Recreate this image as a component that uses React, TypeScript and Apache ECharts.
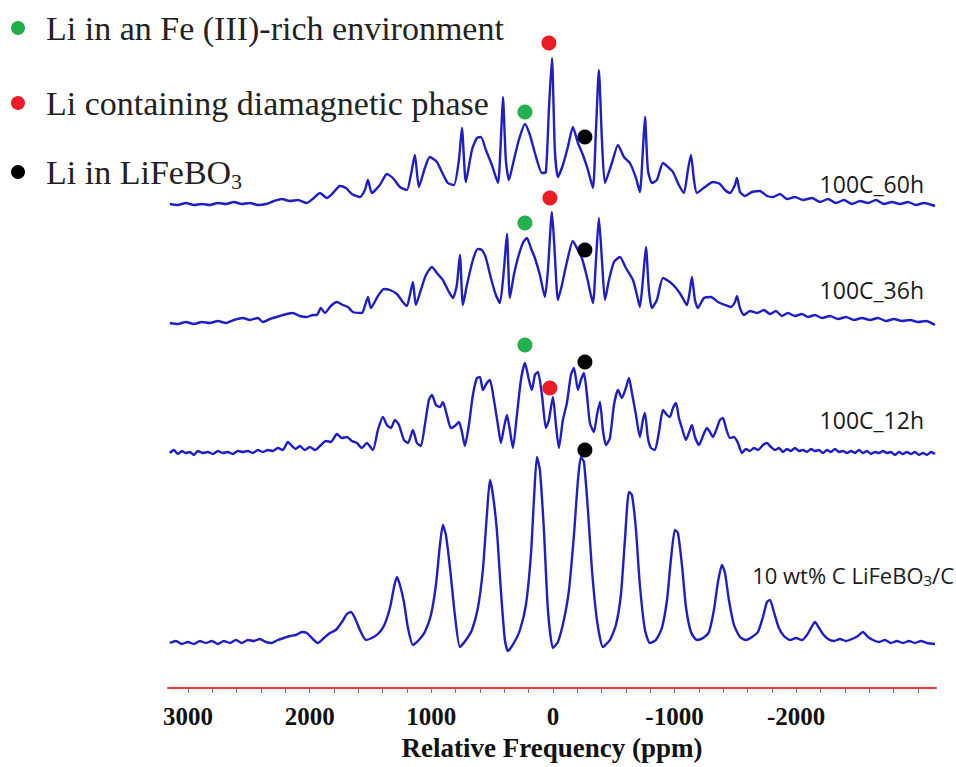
import React, { useEffect, useRef } from "react";
import * as echarts from "echarts";

// x axis (ppm), reversed
const X_MIN = -3150;
const X_MAX = 3165;
const TICK_VALUES = [
  -3000, -2800, -2600, -2400, -2200, -2000, -1800, -1600, -1400, -1200, -1000, -800, -600, -400, -200,
  0, 200, 400, 600, 800, 1000, 1200, 1400, 1600, 1800, 2000, 2200, 2400, 2600, 2800, 3000,
];
const LABEL_VALUES = [-2000, -1000, 0, 1000, 2000, 3000];
const AXIS_TITLE = "Relative Frequency (ppm)";

const LEGEND_LABELS = ["Li in an Fe (III)-rich environment", "Li containing diamagnetic phase", "Li in LiFeBO3"];
const TRACE_LABELS = ["100C_60h", "100C_36h", "100C_12h", "10 wt% C LiFeBO3/C"];

// spectra: [ppm, intensity (a.u.)]
const SPEC_60H = [
  [3150, 6], [3084, 5], [3018, 7], [2952, 5], [2887, 6], [2821, 5], [2755, 7], [2689, 6], [2623, 8], [2558, 6],
  [2492, 7], [2426, 5], [2360, 6], [2294, 9], [2229, 11], [2163, 9], [2097, 10], [2023, 7], [1966, 12], [1916, 17],
  [1859, 12], [1801, 18], [1752, 24], [1702, 22], [1653, 16], [1587, 13], [1546, 20], [1521, 30], [1489, 17],
  [1423, 25], [1365, 36], [1316, 32], [1258, 23], [1201, 20], [1168, 35], [1135, 55], [1102, 23], [1053, 42],
  [1012, 53], [954, 48], [913, 38], [864, 27], [814, 25], [773, 50], [748, 82], [716, 28], [666, 60], [625, 72],
  [592, 73], [551, 60], [502, 45], [452, 27], [428, 70], [411, 113], [387, 50], [362, 30], [321, 50], [280, 70],
  [230, 86], [189, 75], [148, 57], [90, 37], [58, 38], [33, 100], [8, 152], [-16, 60], [-41, 33], [-82, 45],
  [-123, 63], [-164, 83], [-206, 67], [-247, 55], [-288, 40], [-329, 22], [-354, 80], [-378, 140], [-403, 70],
  [-428, 27], [-485, 47], [-535, 65], [-584, 53], [-633, 47], [-683, 32], [-715, 18], [-740, 60], [-757, 93],
  [-781, 40], [-814, 27], [-855, 30], [-905, 47], [-946, 43], [-987, 38], [-1036, 25], [-1077, 17], [-1110, 40],
  [-1135, 55], [-1160, 30], [-1184, 17], [-1250, 23], [-1316, 28], [-1373, 26], [-1415, 20], [-1456, 17],
  [-1497, 25], [-1513, 32], [-1538, 18], [-1579, 14], [-1637, 18], [-1702, 19], [-1760, 14], [-1809, 13],
  [-1867, 16], [-1924, 11], [-1990, 13], [-2056, 10], [-2130, 12], [-2196, 8], [-2262, 11], [-2327, 7],
  [-2393, 10], [-2459, 6], [-2525, 9], [-2591, 7], [-2656, 10], [-2722, 6], [-2788, 8], [-2854, 6], [-2920, 8],
  [-2985, 5], [-3051, 7], [-3142, 4],
];

const SPEC_36H = [
  [3150, 7], [3084, 6], [3018, 8], [2952, 6], [2887, 8], [2821, 7], [2755, 9], [2689, 7], [2623, 10], [2549, 12],
  [2492, 10], [2426, 12], [2385, 8], [2327, 11], [2245, 14], [2188, 16], [2138, 17], [2081, 14], [2023, 13],
  [1974, 15], [1941, 15], [1908, 22], [1875, 17], [1826, 24], [1776, 28], [1727, 25], [1686, 23], [1645, 18],
  [1571, 17], [1546, 24], [1521, 33], [1497, 22], [1439, 34], [1390, 41], [1341, 40], [1283, 36], [1234, 28],
  [1201, 24], [1176, 35], [1151, 48], [1127, 25], [1086, 40], [1044, 55], [995, 63], [954, 57], [905, 50],
  [863, 40], [822, 32], [790, 45], [765, 75], [740, 25], [707, 45], [658, 70], [617, 81], [584, 80], [551, 72],
  [510, 52], [469, 35], [436, 27], [403, 60], [378, 96], [354, 32], [321, 55], [288, 72], [247, 87], [214, 92],
  [181, 82], [148, 72], [107, 55], [66, 33], [41, 60], [8, 118], [-16, 75], [-41, 30], [-74, 45], [-115, 68],
  [-164, 89], [-197, 82], [-238, 72], [-280, 53], [-329, 27], [-354, 70], [-378, 112], [-403, 70], [-428, 30],
  [-461, 50], [-502, 68], [-551, 73], [-600, 62], [-658, 50], [-691, 35], [-715, 23], [-740, 50], [-765, 83],
  [-789, 40], [-814, 22], [-855, 30], [-905, 52], [-962, 48], [-1012, 42], [-1053, 35], [-1102, 25], [-1127, 40],
  [-1143, 53], [-1168, 30], [-1192, 22], [-1242, 32], [-1299, 33], [-1357, 28], [-1415, 25], [-1464, 23],
  [-1497, 28], [-1513, 34], [-1538, 22], [-1571, 15], [-1620, 19], [-1678, 17], [-1735, 20], [-1785, 16],
  [-1834, 19], [-1883, 14], [-1933, 17], [-1990, 14], [-2048, 16], [-2097, 13], [-2155, 15], [-2212, 12],
  [-2278, 14], [-2344, 11], [-2410, 13], [-2475, 10], [-2541, 12], [-2607, 10], [-2673, 12], [-2739, 9],
  [-2804, 11], [-2870, 9], [-2936, 10], [-3002, 8], [-3068, 9], [-3142, 5],
];

const SPEC_12H = [
  [3150, 12], [3117, 15], [3084, 11], [3051, 14], [3018, 12], [2985, 13], [2952, 10], [2920, 14], [2878, 12],
  [2837, 13], [2796, 11], [2755, 14], [2714, 12], [2673, 13], [2632, 11], [2591, 14], [2549, 13], [2508, 14],
  [2467, 12], [2426, 15], [2385, 13], [2344, 15], [2303, 14], [2262, 17], [2220, 15], [2179, 23], [2146, 19],
  [2114, 16], [2081, 19], [2040, 15], [1998, 18], [1957, 15], [1916, 19], [1867, 24], [1826, 23], [1776, 31],
  [1735, 27], [1694, 28], [1653, 24], [1612, 22], [1571, 17], [1530, 22], [1480, 15], [1439, 35], [1398, 48],
  [1365, 40], [1332, 37], [1299, 45], [1266, 40], [1225, 25], [1192, 22], [1151, 35], [1118, 22], [1086, 19],
  [1053, 40], [1020, 65], [995, 70], [962, 60], [929, 58], [905, 63], [872, 50], [839, 37], [806, 39], [773, 43],
  [748, 33], [724, 19], [691, 40], [658, 70], [625, 87], [600, 88], [576, 75], [543, 82], [518, 85], [485, 65],
  [452, 40], [428, 22], [403, 37], [378, 50], [354, 35], [329, 17], [296, 50], [263, 85], [230, 102], [197, 85],
  [173, 75], [148, 90], [123, 93], [90, 70], [58, 37], [33, 45], [0, 68], [-25, 40], [-49, 17], [-82, 45],
  [-115, 62], [-148, 90], [-173, 97], [-206, 75], [-230, 85], [-255, 92], [-280, 70], [-304, 42], [-337, 33],
  [-362, 50], [-387, 63], [-411, 35], [-436, 20], [-469, 27], [-502, 60], [-535, 75], [-567, 67], [-600, 77],
  [-625, 87], [-650, 72], [-683, 50], [-715, 28], [-740, 45], [-757, 52], [-781, 27], [-806, 17], [-839, 15],
  [-872, 33], [-905, 55], [-938, 50], [-962, 48], [-987, 57], [-1012, 62], [-1036, 47], [-1061, 37], [-1094, 25],
  [-1118, 32], [-1143, 40], [-1168, 28], [-1201, 20], [-1234, 29], [-1266, 37], [-1291, 33], [-1316, 28],
  [-1349, 37], [-1373, 45], [-1398, 47], [-1423, 37], [-1456, 27], [-1489, 28], [-1522, 22], [-1554, 12],
  [-1587, 16], [-1620, 14], [-1653, 17], [-1686, 15], [-1727, 20], [-1760, 22], [-1793, 18], [-1826, 15],
  [-1859, 17], [-1891, 13], [-1924, 16], [-1957, 14], [-1990, 17], [-2023, 14], [-2056, 15], [-2089, 13],
  [-2122, 16], [-2155, 14], [-2188, 15], [-2220, 12], [-2253, 15], [-2286, 13], [-2319, 16], [-2352, 13],
  [-2385, 14], [-2418, 12], [-2451, 14], [-2484, 12], [-2516, 15], [-2549, 12], [-2582, 14], [-2615, 11],
  [-2648, 13], [-2681, 12], [-2714, 14], [-2747, 12], [-2780, 13], [-2813, 10], [-2845, 13], [-2878, 11],
  [-2911, 13], [-2944, 11], [-2977, 13], [-3010, 10], [-3043, 12], [-3076, 10], [-3109, 13], [-3142, 11],
];

const SPEC_10WT = [
  [3150, 12], [3100, 14], [3051, 11], [3002, 13], [2952, 11], [2903, 14], [2854, 12], [2804, 14], [2755, 11],
  [2706, 14], [2656, 12], [2607, 15], [2558, 12], [2508, 15], [2459, 14], [2410, 16], [2360, 13], [2311, 12],
  [2262, 15], [2212, 17], [2163, 19], [2114, 20], [2064, 23], [2023, 22], [1982, 17], [1933, 12], [1883, 17],
  [1834, 22], [1785, 25], [1735, 33], [1694, 41], [1661, 43], [1628, 37], [1587, 25], [1538, 15], [1489, 17],
  [1439, 21], [1390, 29], [1340, 47], [1308, 67], [1283, 78], [1258, 70], [1225, 53], [1192, 27], [1151, 10],
  [1102, 15], [1053, 23], [1003, 40], [962, 70], [929, 110], [905, 130], [880, 120], [847, 88], [806, 40],
  [765, 8], [715, 15], [666, 25], [617, 47], [576, 85], [543, 140], [518, 175], [493, 160], [461, 125], [428, 65],
  [395, 15], [370, 4], [321, 12], [271, 25], [222, 50], [181, 100], [156, 155], [132, 198], [107, 185], [74, 125],
  [41, 45], [0, 7], [-41, 13], [-90, 35], [-132, 65], [-173, 120], [-206, 175], [-230, 198], [-255, 193],
  [-288, 145], [-321, 85], [-362, 35], [-411, 8], [-469, 15], [-518, 30], [-559, 60], [-592, 115], [-625, 163],
  [-650, 160], [-683, 125], [-715, 70], [-757, 25], [-798, 12], [-847, 15], [-896, 27], [-938, 55], [-970, 95],
  [-1003, 125], [-1028, 122], [-1061, 90], [-1094, 48], [-1135, 23], [-1184, 15], [-1234, 17], [-1283, 23],
  [-1324, 45], [-1357, 73], [-1390, 90], [-1415, 82], [-1447, 55], [-1489, 30], [-1538, 18], [-1587, 15],
  [-1637, 18], [-1686, 23], [-1727, 38], [-1760, 53], [-1785, 55], [-1817, 43], [-1858, 27], [-1900, 19],
  [-1949, 15], [-1998, 17], [-2048, 15], [-2089, 20], [-2122, 27], [-2155, 33], [-2188, 27], [-2220, 21],
  [-2262, 16], [-2311, 14], [-2360, 16], [-2410, 14], [-2459, 16], [-2508, 19], [-2549, 23], [-2591, 18],
  [-2632, 15], [-2681, 13], [-2730, 15], [-2780, 12], [-2829, 14], [-2878, 12], [-2928, 14], [-2977, 12],
  [-3026, 14], [-3076, 12], [-3142, 11],
];

// peak markers: [trace index, ppm, intensity]
const GREEN_MARKS = [[0, 230, 98], [1, 230, 107], [2, 230, 120]];
const RED_MARKS = [[0, 33, 167], [1, 25, 132], [2, 25, 77]];
const BLACK_MARKS = [[0, -263, 73], [1, -263, 80], [2, -263, 103], [3, -263, 205]];

const SPECTRA = [SPEC_60H, SPEC_36H, SPEC_12H, SPEC_10WT];

export default function App() {
  const ref = useRef<HTMLDivElement>(null);

  useEffect(() => {
    if (!ref.current) return;
    const chart = echarts.init(ref.current, null, { renderer: "svg" });

    const gridBoxes = [
      { top: 35, bottom: 557, yMin: 0, yMax: 175 },
      { top: 190, bottom: 437, yMin: 0, yMax: 140 },
      { top: 340, bottom: 302, yMin: 0, yMax: 125 },
      { top: 435, bottom: 79, yMin: -33, yMax: 220 },
    ];
    const LINE = "#1e1ec4";
    const AXIS_RED = "#e8383d";
    const markColors = ["#22b04c", "#ec1c24", "#000000"];
    const markSets = [GREEN_MARKS, RED_MARKS, BLACK_MARKS];

    const grid = gridBoxes.map((g) => ({ left: 168, right: 20, top: g.top, bottom: g.bottom }));
    const xAxis = gridBoxes.map((g, i) => {
      const base: any = { type: "value", gridIndex: i, min: X_MIN, max: X_MAX, inverse: true };
      if (i < 3) return { ...base, show: false };
      return {
        ...base,
        show: true,
        name: AXIS_TITLE,
        nameLocation: "middle",
        nameGap: 46,
        nameTextStyle: { fontFamily: "Liberation Serif", fontWeight: "bold", fontSize: 27, color: "#111" },
        axisLine: { show: true, onZero: false, lineStyle: { color: AXIS_RED, width: 2 } },
        axisTick: { show: true, customValues: TICK_VALUES, length: 5, lineStyle: { color: "#8a6a6a", width: 1 } },
        minorTick: { show: false },
        splitLine: { show: false },
        axisLabel: {
          customValues: LABEL_VALUES,
          formatter: (v: number) => String(v),
          margin: 16,
          fontFamily: "Liberation Serif",
          fontWeight: "bold",
          fontSize: 25,
          color: "#111",
        },
      };
    });
    const yAxis = gridBoxes.map((g, i) => ({ type: "value", gridIndex: i, min: g.yMin, max: g.yMax, show: false }));

    const series: any[] = SPECTRA.map((d, i) => ({
      type: "line",
      name: TRACE_LABELS[i],
      xAxisIndex: i,
      yAxisIndex: i,
      data: d,
      showSymbol: false,
      symbol: "none",
      smooth: 0.2,
      lineStyle: { color: LINE, width: 2.4 },
      z: 2,
    }));
    markSets.forEach((set, c) => {
      [0, 1, 2, 3].forEach((ti) => {
        const pts = set.filter((m) => m[0] === ti).map((m) => [m[1], m[2]]);
        if (!pts.length) return;
        series.push({
          type: "scatter",
          name: LEGEND_LABELS[c],
          xAxisIndex: ti,
          yAxisIndex: ti,
          data: pts,
          symbol: "circle",
          symbolSize: 15,
          itemStyle: { color: markColors[c], opacity: 1 },
          clip: false,
          z: 5,
        });
      });
    });

    const legendRowsY = [28, 103, 172];
    const legendGraphics: any[] = [];
    LEGEND_LABELS.forEach((lab, i) => {
      legendGraphics.push({
        type: "circle",
        shape: { cx: 18, cy: legendRowsY[i], r: 7 },
        style: { fill: markColors[i] },
      });
      const rich = lab.endsWith("BO3");
      legendGraphics.push({
        type: "text",
        x: 46,
        y: legendRowsY[i],
        style: {
          text: rich ? lab.replace("BO3", "BO{sub|3}") : lab,
          fontFamily: "Liberation Serif",
          fontSize: 34,
          fill: "#222",
          verticalAlign: "middle",
          lineHeight: 40,
          rich: {
            sub: { fontSize: 22, fontFamily: "Liberation Serif", fill: "#222", verticalAlign: "bottom", lineHeight: 40, padding: [14, 0, 0, 0] },
          },
        },
      });
    });

    const traceLabelPos = [
      { x: 924, y: 184 },
      { x: 924, y: 290 },
      { x: 924, y: 420 },
      { x: 954, y: 575 },
    ];
    const traceGraphics = TRACE_LABELS.map((t, i) => ({
      type: "text",
      x: traceLabelPos[i].x,
      y: traceLabelPos[i].y,
      style: {
        text: t.includes("BO3") ? t.replace("BO3", "BO{sub|3}") : t,
        fontFamily: "Open Sans",
        fontSize: i === 3 ? 22 : 23,
        fill: "#1a1a1a",
        align: "right",
        verticalAlign: "middle",
        rich: { sub: { fontSize: 15, fontFamily: "Open Sans", fill: "#1a1a1a", padding: [10, 0, 0, 0] } },
      },
    }));

    chart.setOption({
      animation: false,
      backgroundColor: "#ffffff",
      grid,
      xAxis,
      yAxis,
      series,
      graphic: [...legendGraphics, ...traceGraphics],
    });
    return () => chart.dispose();
  }, []);

  return <div ref={ref} style={{ position: "fixed", left: 0, top: 0, width: 956, height: 767, background: "#fff" }} />;
}
